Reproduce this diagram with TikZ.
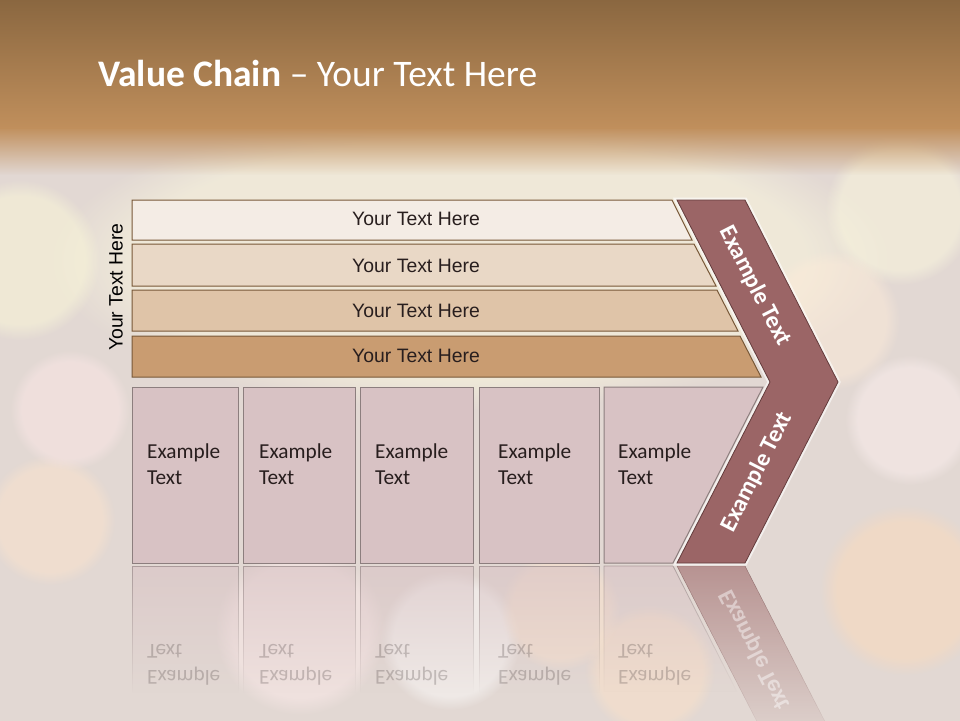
\documentclass[tikz,border=0pt]{standalone}
\usepackage{fontspec}
\setmainfont{Carlito}
\newfontfamily\arialf{Liberation Sans}
\usetikzlibrary{fadings}
\definecolor{topdark}{RGB}{134,100,62}
\definecolor{toplight}{RGB}{192,143,92}
\definecolor{bgbase}{RGB}{226,216,211}
\definecolor{barA}{RGB}{244,236,229}
\definecolor{barB}{RGB}{233,216,198}
\definecolor{barC}{RGB}{223,196,168}
\definecolor{barD}{RGB}{201,156,113}
\definecolor{barline}{RGB}{120,88,56}
\definecolor{boxfill}{RGB}{216,194,196}
\definecolor{boxline}{RGB}{140,126,126}
\definecolor{chev}{RGB}{155,101,102}
\definecolor{chevline}{RGB}{100,60,60}
\definecolor{txtdark}{RGB}{40,30,30}
\tikzfading[name=reflfade, top color=transparent!40, bottom color=transparent!100]
\begin{document}
\begin{tikzpicture}[x=1pt,y=-1pt,
  bokeh/.style={fill opacity=0.45, path fading=circle with fuzzy edge 20 percent},
  barshape/.style={draw=barline, line width=1pt},
  bartext/.style={font=\arialf\fontsize{19.4}{22}\selectfont, text=txtdark, inner sep=0},
  boxshape/.style={fill=boxfill, draw=boxline, line width=1pt},
  boxtext/.style={font=\fontsize{21.3}{25.6}\selectfont, text=txtdark, align=left, anchor=north west, inner sep=0},
  reflbox/.style={fill=boxfill, draw=boxline, line width=0.8pt, path fading=reflfade},
  refltext/.style={boxtext, text opacity=0.22, yscale=-1},
  chevtext/.style={font=\bfseries\fontsize{24}{28}\selectfont, text=white, inner sep=0}]
\useasboundingbox (0,0) rectangle (960,720);
% background
\fill[bgbase] (-10,-10) rectangle (970,730);
\fill[white!88!yellow, fill opacity=0.45, path fading=circle with fuzzy edge 20 percent] (470,260) ellipse (420 and 150);
\fill[bokeh, fill=white!85!yellow] (20,260) circle (80);
\fill[bokeh, fill=white!80!orange] (50,520) circle (65);
\fill[bokeh, fill=white!70!pink] (300,630) circle (85);
\fill[bokeh, fill=white] (450,640) circle (70);
\fill[bokeh, fill=white!72!orange] (905,590) circle (85);
\fill[bokeh, fill=white!88!yellow] (900,210) circle (75);
\fill[bokeh, fill=white!80!pink] (910,420) circle (65);
\fill[bokeh, fill=white!78!orange] (650,670) circle (65);
\fill[bokeh, fill=white!85!orange] (830,320) circle (70);
\fill[bokeh, fill=white!65!pink] (70,410) circle (60);
\fill[bokeh, fill=white!80!orange] (560,610) circle (60);
\shade[top color=topdark, bottom color=toplight] (-10,-10) rectangle (970,128);
\fill[toplight, path fading=south] (-10,127) rectangle (970,175);
% title
\node[anchor=base west, inner sep=0, text=white, font=\fontsize{37.5}{44}\selectfont] (title) at (98,86) {\textbf{Value Chain} – Your Text Here};
% reflections
\foreach \xa/\xb in {132/238, 243/355, 360/473, 479/599}
  \path[reflbox] (\xa,566) rectangle (\xb,692);
\path[reflbox] (604,566) -- (673,566) -- (737,692) -- (604,692) -- cycle;
\path[fill=chev, draw=chevline, path fading=reflfade] (677,566) -- (745,566) -- (838,747) -- (770,747) -- cycle;
\node[refltext] (r1) at (147,685) {Example\\Text};
\node[refltext] (r2) at (259,685) {Example\\Text};
\node[refltext] (r3) at (375,685) {Example\\Text};
\node[refltext] (r4) at (498,685) {Example\\Text};
\node[refltext] (r5) at (618,685) {Example\\Text};
\node[chevtext, text opacity=0.45, rotate=-63, yscale=-1] (rc) at (755,650) {Example Text};
% bars
\path[barshape, fill=barA] (132,200) -- (672,200) -- (692,240) -- (132,240) -- cycle;
\path[barshape, fill=barB] (132,244) -- (694,244) -- (716,286) -- (132,286) -- cycle;
\path[barshape, fill=barC] (132,290) -- (717,290) -- (738,331) -- (132,331) -- cycle;
\path[barshape, fill=barD] (132,336) -- (740,336) -- (761,377) -- (132,377) -- cycle;
\node[bartext] (b1) at (416,219) {Your Text Here};
\node[bartext] (b2) at (416,266) {Your Text Here};
\node[bartext] (b3) at (416,311) {Your Text Here};
\node[bartext] (b4) at (416,356) {Your Text Here};
\node[bartext, text=black, rotate=90] (side) at (116,287) {Your Text Here};
% boxes
\path[boxshape] (132,387) rectangle (238,563);
\path[boxshape] (243,387) rectangle (355,563);
\path[boxshape] (360,387) rectangle (473,563);
\path[boxshape] (479,387) rectangle (599,563);
\path[boxshape] (604,387) -- (763,387) -- (673,563) -- (604,563) -- cycle;
\node[boxtext] (t1) at (147,444) {Example\\Text};
\node[boxtext] (t2) at (259,444) {Example\\Text};
\node[boxtext] (t3) at (375,444) {Example\\Text};
\node[boxtext] (t4) at (498,444) {Example\\Text};
\node[boxtext] (t5) at (618,444) {Example\\Text};
% chevron
\draw[white, line width=5pt, opacity=0.6, line join=miter] (677,200) -- (745,200) -- (838,382) -- (745,563) -- (677,563) -- (770,382) -- cycle;
\path[fill=chev, draw=chevline, line width=0.8pt, line join=miter] (677,200) -- (745,200) -- (838,382) -- (745,563) -- (677,563) -- (770,382) -- cycle;
\node[chevtext, rotate=-63] (c1) at (755,286) {Example Text};
\node[chevtext, rotate=63] (c2) at (757,472) {Example Text};
\end{tikzpicture}
\end{document}
